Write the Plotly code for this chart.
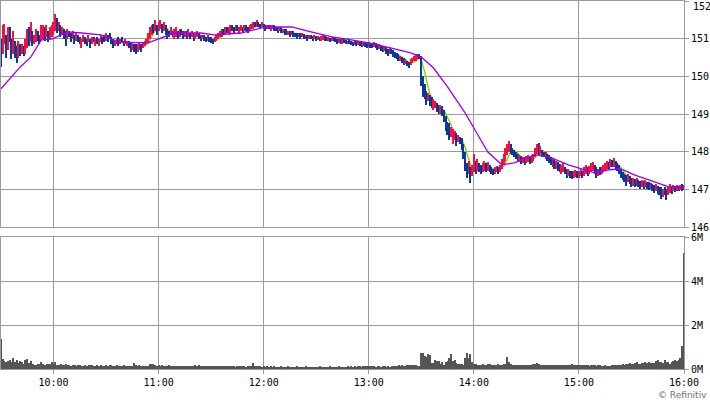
import pandas as pd
import numpy as np
import plotly.graph_objects as go

# ---------------- data (1-minute bars, 09:30 .. 16:00) ----------------
high = [
    # 09:30
    151.0,151.35,151.4,151.1,151.3,151.3,151.0,151.2,150.95,150.8,150.95,150.85,150.85,150.8,151.0,151.25,151.3,151.45,151.2,151.1,151.25,151.2,151.1,151.35,151.35,151.3,151.35,151.2,151.3,151.35,
    # 10:00
    151.45,151.65,151.55,151.45,151.35,151.3,151.25,151.2,151.25,151.2,151.15,151.2,151.1,151.15,151.1,151.05,151.0,151.1,151.05,151.0,151.1,151.0,151.05,151.05,151.0,151.05,151.0,151.1,151.05,151.1,
    # 10:30
    151.15,151.1,151.15,151.05,151.0,150.95,151.0,151.05,151.0,151.05,150.95,151.0,150.95,150.95,150.9,150.9,150.85,150.85,150.85,150.9,150.85,150.9,150.95,151.0,151.15,151.3,151.35,151.4,151.5,151.35,
    # 11:00
    151.45,151.5,151.4,151.45,151.35,151.25,151.2,151.3,151.2,151.25,151.3,151.2,151.25,151.25,151.2,151.2,151.2,151.25,151.15,151.2,151.15,151.15,151.2,151.15,151.1,151.1,151.1,151.05,151.1,151.05,
    # 11:30
    151.05,151.0,151.05,151.1,151.15,151.2,151.25,151.25,151.3,151.3,151.3,151.35,151.35,151.3,151.35,151.35,151.3,151.35,151.3,151.35,151.35,151.3,151.35,151.4,151.45,151.45,151.5,151.45,151.4,151.45,
    # 12:00
    151.4,151.35,151.35,151.35,151.35,151.35,151.35,151.3,151.3,151.3,151.3,151.25,151.25,151.25,151.2,151.2,151.2,151.2,151.15,151.15,151.15,151.15,151.15,151.12,151.1,151.1,151.1,151.1,151.08,151.1,
    # 12:30
    151.08,151.08,151.05,151.07,151.1,151.07,151.05,151.05,151.03,151.05,151.05,151.02,151.0,151.0,150.98,151.0,151.0,150.97,150.95,150.97,150.95,150.92,150.95,150.93,150.95,150.92,150.9,150.92,150.9,150.88,
    # 13:00
    150.9,150.88,150.85,150.9,150.88,150.85,150.85,150.82,150.8,150.8,150.78,150.72,150.75,150.72,150.7,150.65,150.62,150.58,150.55,150.52,150.48,150.45,150.42,150.38,150.45,150.5,150.55,150.58,150.6,150.58,
    # 13:30
    150.55,150.0,149.8,149.6,149.55,149.5,149.45,149.4,149.35,149.3,149.25,149.25,149.2,149.1,148.95,148.8,148.75,148.65,148.6,148.55,148.5,148.45,148.4,148.35,148.2,148.0,147.7,147.75,147.6,147.65,
    # 14:00
    147.95,147.75,147.8,147.7,147.65,147.7,147.75,147.7,147.72,147.65,147.6,147.55,147.6,147.62,147.58,147.65,147.8,147.95,148.1,148.2,148.28,148.2,148.1,148.05,148.0,147.95,147.9,147.88,147.85,147.85,
    # 14:30
    147.88,147.9,147.85,147.9,147.95,148.1,148.2,148.22,148.15,148.05,148.0,148.0,147.95,147.9,147.85,147.82,147.78,147.75,147.72,147.68,147.65,147.7,147.6,147.55,147.55,147.5,147.48,147.5,147.52,147.5,
    # 15:00
    147.5,147.55,147.5,147.6,147.65,147.6,147.62,147.7,147.72,147.65,147.6,147.55,147.58,147.6,147.65,147.7,147.75,147.72,147.8,147.78,147.83,147.75,147.7,147.65,147.55,147.45,147.4,147.38,147.4,147.35,
    # 15:30 .. 16:00
    147.3,147.3,147.28,147.3,147.25,147.22,147.25,147.22,147.25,147.2,147.2,147.18,147.15,147.12,147.15,147.1,147.05,147.05,147.0,147.05,147.0,147.05,147.15,147.1,147.12,147.1,147.12,147.1,147.12,147.15,147.12,
]

low = [
    150.25,150.6,150.85,150.5,150.7,150.9,150.45,150.6,150.5,150.35,150.5,150.55,150.6,150.55,150.6,150.75,150.8,150.95,150.8,150.85,150.9,150.95,150.85,150.95,151.0,150.95,151.05,150.9,151.0,151.05,
    151.1,151.2,151.15,151.2,151.05,151.1,151.0,150.8,151.0,151.05,150.9,151.0,150.85,150.95,150.9,150.85,150.75,150.9,150.85,150.8,150.9,150.75,150.85,150.9,150.8,150.85,150.8,150.9,150.85,150.9,
    150.95,150.9,151.0,150.85,150.75,150.8,150.85,150.8,150.85,150.9,150.8,150.85,150.8,150.75,150.65,150.7,150.65,150.6,150.65,150.7,150.65,150.75,150.8,150.85,150.9,151.0,151.1,151.15,151.2,151.1,
    151.2,151.25,151.15,151.2,151.1,151.0,151.05,151.1,151.05,151.0,151.05,151.0,151.05,151.1,151.0,151.05,151.0,151.05,151.0,151.05,150.95,151.0,151.05,151.0,150.95,151.0,150.95,150.9,150.95,150.9,
    150.88,150.85,150.9,150.95,151.0,151.05,151.05,151.1,151.1,151.15,151.1,151.15,151.2,151.15,151.2,151.2,151.15,151.2,151.15,151.2,151.2,151.15,151.2,151.25,151.25,151.3,151.3,151.3,151.25,151.3,
    151.25,151.2,151.25,151.25,151.2,151.25,151.2,151.2,151.15,151.2,151.15,151.15,151.1,151.1,151.1,151.05,151.1,151.05,151.05,151.0,151.05,151.0,151.05,151.0,151.0,150.95,151.0,150.98,150.95,151.0,
    150.95,150.97,150.95,150.95,150.97,150.95,150.93,150.95,150.92,150.95,150.93,150.9,150.85,150.88,150.85,150.87,150.88,150.85,150.85,150.85,150.83,150.8,150.82,150.8,150.82,150.8,150.78,150.8,150.78,150.75,
    150.78,150.75,150.75,150.78,150.75,150.7,150.72,150.68,150.65,150.68,150.6,150.55,150.6,150.58,150.52,150.5,150.45,150.4,150.42,150.35,150.3,150.32,150.28,150.22,150.3,150.35,150.4,150.42,150.45,150.45,
    149.75,149.45,149.4,149.25,149.35,149.2,149.15,149.1,149.15,149.05,149.0,149.0,148.95,148.8,148.55,148.45,148.3,148.4,148.2,148.3,148.15,148.25,148.2,148.05,147.8,147.5,147.3,147.4,147.17,147.35,
    147.45,147.4,147.5,147.45,147.4,147.45,147.5,147.45,147.5,147.45,147.4,147.38,147.4,147.45,147.4,147.45,147.55,147.65,147.75,147.9,148.0,147.95,147.9,147.85,147.8,147.75,147.72,147.68,147.7,147.65,
    147.7,147.72,147.68,147.7,147.75,147.85,147.95,147.9,147.95,147.85,147.85,147.8,147.75,147.7,147.65,147.6,147.55,147.55,147.5,147.45,147.42,147.45,147.4,147.3,147.35,147.3,147.28,147.3,147.32,147.3,
    147.3,147.35,147.3,147.35,147.4,147.35,147.4,147.45,147.5,147.4,147.3,147.35,147.38,147.4,147.45,147.5,147.55,147.55,147.6,147.58,147.6,147.55,147.5,147.4,147.3,147.25,147.2,147.1,147.2,147.15,
    147.05,147.1,147.05,147.1,147.05,147.0,147.05,147.02,147.05,147.0,146.98,147.0,146.95,146.9,146.95,146.88,146.85,146.75,146.8,146.85,146.72,146.85,146.9,146.88,146.95,146.92,146.95,146.95,146.97,146.95,146.97,
]

# R = up bar (red), B = down bar (blue)
direction = (
    "BRRBRBBRBBRBRBRRBRBRRBBRRBRBRR"
    "RRBRBRBBRBBRBRBBRRBBRBRBRBRRBB"
    "RBBBBRRBRBBRRBBRBBRRBRRRRRRBRB"
    "RRBRBBBRBRRBRBBRBRBRBRRBBRBBRB"
    "BBRRRRRBRBRRBBRBRRBRBBRRRBRBBR"
    "BBRBRRBBBRBRBBRBRBBBRBRBRBRBBR"
    "BRBRRBBRBRBBBRBRBBRBBBRBRBBRBB"
    "RBBRBBRBBRBBRBBBBBRBBRBBRRRRRB"
    "BBBBRBBRRBBRBBBBBRRRBRBBBBBRBR"
    "RBRBBRRBRBBBRRBRRRRRRBBBBBRBRB"
    "RRBRRRRBRBBRBBBRBRBBRRBBRBBRRB"
    "RRBRRBRRRBBRBRRRRBRBRBBBBBBBRB"
    "BRBRBBRBRBBRBBRBBBRBBRRBRBRBRBR"
)

# volume per minute, millions of shares
volume_m = [
    1.35,0.45,0.38,0.3,0.35,0.42,0.32,0.5,0.3,0.42,0.28,0.35,0.3,0.25,0.4,0.45,0.28,0.35,0.22,0.2,0.2,0.22,0.25,0.3,0.22,0.2,0.25,0.22,0.25,0.3,
    0.25,0.33,0.2,0.16,0.22,0.2,0.17,0.22,0.18,0.2,0.15,0.2,0.16,0.15,0.17,0.18,0.14,0.15,0.18,0.14,0.16,0.2,0.17,0.15,0.14,0.16,0.15,0.17,0.14,0.15,
    0.17,0.15,0.2,0.16,0.14,0.15,0.18,0.15,0.14,0.13,0.16,0.14,0.15,0.13,0.14,0.15,0.27,0.16,0.13,0.18,0.14,0.13,0.12,0.15,0.14,0.22,0.23,0.23,0.16,0.15,
    0.17,0.14,0.18,0.15,0.13,0.14,0.16,0.15,0.13,0.14,0.15,0.12,0.14,0.13,0.15,0.14,0.12,0.13,0.14,0.12,0.13,0.16,0.14,0.18,0.15,0.13,0.14,0.13,0.12,0.13,
    0.14,0.12,0.13,0.15,0.12,0.13,0.14,0.12,0.15,0.13,0.12,0.14,0.13,0.12,0.11,0.13,0.12,0.14,0.12,0.13,0.11,0.12,0.13,0.12,0.27,0.14,0.12,0.13,0.12,0.11,
    0.12,0.11,0.13,0.1,0.12,0.11,0.14,0.1,0.09,0.1,0.12,0.11,0.09,0.1,0.12,0.11,0.1,0.09,0.11,0.12,0.1,0.09,0.11,0.1,0.12,0.09,0.1,0.11,0.09,0.1,
    0.11,0.1,0.12,0.09,0.1,0.11,0.09,0.1,0.12,0.1,0.09,0.11,0.1,0.12,0.1,0.09,0.11,0.1,0.12,0.11,0.13,0.1,0.12,0.11,0.13,0.12,0.1,0.12,0.14,0.12,
    0.14,0.15,0.12,0.13,0.11,0.12,0.14,0.1,0.12,0.15,0.11,0.13,0.1,0.12,0.15,0.14,0.12,0.16,0.15,0.17,0.15,0.14,0.18,0.17,0.16,0.19,0.18,0.17,0.14,0.13,
    0.73,0.75,0.57,0.55,0.67,0.62,0.27,0.28,0.42,0.38,0.35,0.24,0.3,0.2,0.32,0.35,0.5,0.7,0.35,0.4,0.27,0.23,0.22,0.24,0.2,0.5,0.75,0.5,0.7,0.3,
    0.25,0.22,0.2,0.18,0.2,0.22,0.18,0.2,0.25,0.22,0.2,0.18,0.17,0.2,0.22,0.18,0.2,0.25,0.22,0.53,0.3,0.25,0.2,0.18,0.2,0.19,0.18,0.2,0.18,0.17,
    0.18,0.2,0.17,0.19,0.22,0.25,0.28,0.24,0.2,0.18,0.19,0.17,0.2,0.18,0.19,0.2,0.18,0.17,0.16,0.2,0.18,0.19,0.17,0.16,0.2,0.18,0.22,0.19,0.17,0.2,
    0.18,0.17,0.2,0.18,0.19,0.17,0.15,0.16,0.2,0.17,0.15,0.16,0.18,0.14,0.15,0.16,0.14,0.13,0.15,0.18,0.2,0.17,0.18,0.2,0.17,0.22,0.2,0.21,0.24,0.26,
    0.25,0.22,0.28,0.3,0.25,0.24,0.26,0.27,0.3,0.26,0.33,0.28,0.26,0.27,0.35,0.4,0.34,0.3,0.27,0.42,0.32,0.3,0.25,0.34,0.36,0.4,0.35,0.4,0.52,1.03,5.27,
]

# long moving average (purple line), read at sample times
ma_times = ["09:30","09:36","09:41","09:47","09:53","09:59","10:08","10:16","10:27","10:37","10:54","11:09",
            "11:24","11:32","11:47","12:01","12:16","12:27","12:39","12:50","13:00","13:13","13:24","13:30",
            "13:37","13:45","13:55","14:03","14:08","14:16","14:23","14:35","14:44","14:54","15:03","15:09",
            "15:17","15:24","15:32","15:43","15:51","16:00"]
ma_values = [149.67,149.98,150.25,150.51,150.97,150.99,151.18,151.15,151.10,150.91,150.89,151.15,
             151.15,151.10,151.15,151.31,151.31,151.18,151.05,150.97,150.89,150.75,150.62,150.51,
             150.22,149.72,149.03,148.39,147.99,147.65,147.70,147.92,147.84,147.65,147.52,147.44,
             147.52,147.54,147.38,147.20,147.07,147.04]

price_ticks = [146, 147, 148, 149, 150, 151, 152]
price_tick_text = ["146", "147", "148", "149", "150", "151", "152"]
vol_ticks = [0, 2, 4, 6]
vol_tick_text = ["0M", "2M", "4M", "6M"]
hour_ticks = ["10:00", "11:00", "12:00", "13:00", "14:00", "15:00", "16:00"]

# ---------------- build ----------------
day = "2021-03-01 "
start = pd.Timestamp(day + "09:30")
times = [start + pd.Timedelta(minutes=i) for i in range(len(high))]
hi = np.array(high)
lo = np.array(low)
mid = (hi + lo) / 2
short_ma = pd.Series(mid).rolling(5, min_periods=1).mean()

RED = "#F5103F"
BLUE = "#083A9E"
GRID = "#9A9A9A"
colors = [RED if d == "R" else BLUE for d in direction]

fig = go.Figure()

fig.add_trace(go.Scatter(x=times, y=short_ma, mode="lines",
                         line=dict(color="#9ACD00", width=1.4),
                         xaxis="x", yaxis="y", hoverinfo="skip"))

fig.add_trace(go.Bar(x=times, y=hi - lo, base=lo, width=40000,
                     marker=dict(color=colors, line=dict(width=0)),
                     xaxis="x", yaxis="y3", hoverinfo="skip"))

fig.add_trace(go.Scatter(x=[pd.Timestamp(day + t) for t in ma_times], y=ma_values,
                         mode="lines", line=dict(color="#9B00F5", width=1.3),
                         xaxis="x", yaxis="y3", hoverinfo="skip"))

fig.add_trace(go.Bar(x=times, y=volume_m, width=36000,
                     marker=dict(color="#555555", line=dict(width=0)),
                     xaxis="x2", yaxis="y2", hoverinfo="skip"))

xr = [start, pd.Timestamp(day + "16:00")]
hour_vals = [pd.Timestamp(day + h) for h in hour_ticks]
tickfont = dict(family="DejaVu Sans Mono", size=10, color="#000000")

H = 368.0
price_dom = [(369 - 227) / H, 1.0]
vol_dom = [0.0, (369 - 237) / H]

# the top price label sits just below its gridline (it would be clipped otherwise)
axis_text = price_tick_text[:-1] + [""]
top_label = dict(text=price_tick_text[-1], xref="paper", yref="y", x=1, y=price_ticks[-1],
                 xanchor="left", yanchor="middle", xshift=7, yshift=-5, showarrow=False,
                 font=tickfont)

fig.update_layout(
    width=710, height=400,
    margin=dict(l=1, r=26, t=1, b=31, autoexpand=False),
    paper_bgcolor="white", plot_bgcolor="white",
    showlegend=False, bargap=0, barmode="overlay",
    xaxis=dict(range=xr, tickvals=hour_vals, showticklabels=False, ticks="",
               showgrid=True, gridcolor=GRID, gridwidth=1,
               showline=True, linecolor=GRID, linewidth=1, mirror=True,
               anchor="y", zeroline=False, automargin=False),
    yaxis=dict(domain=price_dom, range=[146, 152], tickvals=price_ticks, ticktext=axis_text,
               side="right", ticks="outside", ticklen=4, tickcolor=GRID, tickfont=tickfont,
               showgrid=True, gridcolor=GRID, gridwidth=1,
               showline=True, linecolor=GRID, linewidth=1, mirror=True,
               zeroline=False, anchor="x", automargin=False),
    yaxis3=dict(overlaying="y", range=[146, 152], visible=False, showgrid=False,
                zeroline=False, anchor="x"),
    xaxis2=dict(range=xr, tickvals=hour_vals, ticktext=hour_ticks, matches="x",
                ticks="outside", ticklen=4, tickcolor=GRID, tickfont=tickfont,
                showgrid=True, gridcolor=GRID, gridwidth=1,
                showline=True, linecolor=GRID, linewidth=1, mirror=True,
                anchor="y2", zeroline=False, automargin=False),
    yaxis2=dict(domain=vol_dom, range=[0, 6], tickvals=vol_ticks, ticktext=vol_tick_text,
                side="right", ticks="outside", ticklen=4, tickcolor=GRID, tickfont=tickfont,
                showgrid=True, gridcolor=GRID, gridwidth=1,
                showline=True, linecolor=GRID, linewidth=1, mirror=True,
                zeroline=False, anchor="x2", automargin=False),
    annotations=[
        top_label,
        dict(text="© Refinitiv", xref="paper", yref="paper", x=1, y=-0.07,
             xanchor="right", yanchor="middle", xshift=25, showarrow=False,
             font=dict(family="DejaVu Sans", size=9, color="#707070")),
    ],
)

fig.write_html("out.html", config={"displayModeBar": False},
               post_script="document.body.style.margin='0px';document.body.style.padding='0px';")
